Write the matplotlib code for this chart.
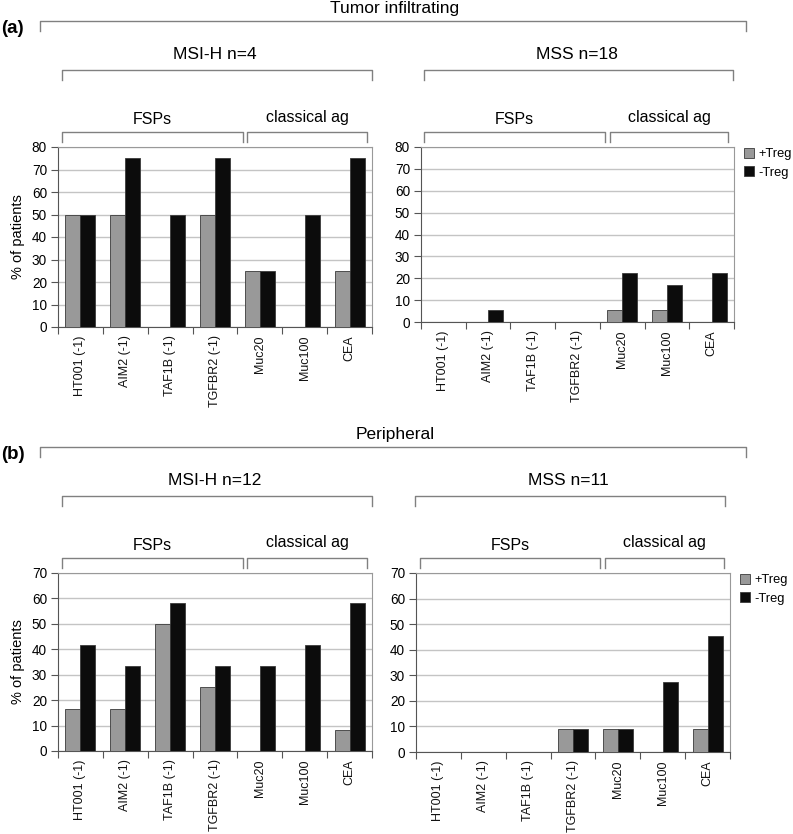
import matplotlib
matplotlib.use("Agg")
import matplotlib.pyplot as plt
import numpy as np

plt.rcParams['font.family'] = ['Liberation Sans', 'DejaVu Sans']

# antigènes (communs aux 4 graphiques)
antigenes = ['HT001 (-1)', 'AIM2 (-1)', 'TAF1B (-1)', 'TGFBR2 (-1)', 'Muc20', 'Muc100', 'CEA']

# (a) Tumor infiltrating
msih_a_plus = [50, 50, 0, 50, 25, 0, 25]
msih_a_moins = [50, 75, 50, 75, 25, 50, 75]
mss_a_plus = [0, 0, 0, 0, 5.6, 5.6, 0]
mss_a_moins = [0, 5.6, 0, 0, 22.2, 16.7, 22.2]

# (b) Peripheral
msih_b_plus = [16.7, 16.7, 50, 25, 0, 0, 8.3]
msih_b_moins = [41.7, 33.3, 58.3, 33.3, 33.3, 41.7, 58.3]
mss_b_plus = [0, 0, 0, 9.1, 9.1, 0, 9.1]
mss_b_moins = [0, 0, 0, 9.1, 9.1, 27.3, 45.5]

W, H = 793, 834
fig = plt.figure(figsize=(W / 100, H / 100), dpi=100)

GRIS = '#999999'
NOIR = '#0c0c0c'


def axes_px(x1, y1, x2, y2):
    return fig.add_axes([x1 / W, 1 - y2 / H, (x2 - x1) / W, (y2 - y1) / H])


def graphique(ax, plus, moins, ymax, ylabel=False):
    x = np.arange(len(antigenes))
    ax.bar(x - 0.167, plus, 0.334, color=GRIS, edgecolor='#3a3a3a', linewidth=0.6, zorder=3, label='+Treg')
    ax.bar(x + 0.167, moins, 0.334, color=NOIR, edgecolor='#3a3a3a', linewidth=0.6, zorder=3, label='-Treg')
    ax.set_xlim(-0.5, len(antigenes) - 0.5)
    ax.set_ylim(0, ymax)
    ax.set_yticks(np.arange(0, ymax + 1, 10))
    ax.yaxis.grid(True, color='#c4c4c4', linewidth=1, zorder=0)
    ax.set_xticks(np.arange(len(antigenes) + 1) - 0.5)
    ax.set_xticklabels([])
    ax.set_xticks(x, minor=True)
    ax.set_xticklabels(antigenes, minor=True, rotation=90, fontsize=9, color='#111')
    ax.tick_params(axis='x', which='major', direction='out', length=5, color='#555')
    ax.tick_params(axis='x', which='minor', length=0, pad=6)
    ax.tick_params(axis='y', direction='out', length=5, color='#555', labelsize=9.8, pad=3)
    for s in ['top', 'right']:
        ax.spines[s].set_color('#999999')
    for s in ['left', 'bottom']:
        ax.spines[s].set_color('#555555')
    if ylabel:
        ax.set_ylabel('% of patients', fontsize=10.5, labelpad=5)


ax1 = axes_px(58, 147, 372, 327)
graphique(ax1, msih_a_plus, msih_a_moins, 80, ylabel=True)
ax2 = axes_px(421, 147, 734, 322)
graphique(ax2, mss_a_plus, mss_a_moins, 80)
ax3 = axes_px(58, 573, 372, 751)
graphique(ax3, msih_b_plus, msih_b_moins, 70, ylabel=True)
ax4 = axes_px(416, 573, 730, 752)
graphique(ax4, mss_b_plus, mss_b_moins, 70)

for ax, y0 in [(ax2, 147), (ax4, 573)]:
    ax.legend(loc='upper left', bbox_to_anchor=((ax.get_position().x1 * W + 10) / W, 1 - (y0 + 1) / H),
              bbox_transform=fig.transFigure, frameon=False, fontsize=9.3,
              handlelength=0.8, handleheight=0.8, handletextpad=0.35, labelspacing=0.45, borderpad=0, borderaxespad=0)

# calque pour les accolades et les titres (en pixels)
ov = fig.add_axes([0, 0, 1, 1], zorder=10)
ov.set_xlim(0, W)
ov.set_ylim(H, 0)
ov.axis('off')
ov.patch.set_alpha(0)


def accolade(x1, x2, y, h=10):
    ov.plot([x1, x1, x2, x2], [y + h, y, y, y + h], color='#808080', linewidth=1)


def texte(x, y, s, fs, **kw):
    ov.text(x, y, s, fontsize=fs, ha='center', va='center', **kw)


for dy, titre, lettre, gauche, droite, n1, n2 in [
        (0, 'Tumor infiltrating', '(a)', (62, 372, 62, 243, 247, 367),
         (424, 733, 424, 605, 610, 728), 'MSI-H n=4', 'MSS n=18'),
        (426, 'Peripheral', '(b)', (62, 372, 62, 243, 247, 367),
         (415, 725, 420, 600, 605, 724), 'MSI-H n=12', 'MSS n=11')]:
    texte(395, 8 + dy, titre, 12.5)
    ov.text(1, 28 + dy, lettre, fontsize=13.5, fontweight='bold', ha='left', va='center')
    accolade(40, 746, 21 + dy)
    for (a1, a2, f1, f2, c1, c2), n in [(gauche, n1), (droite, n2)]:
        texte((a1 + a2) / 2 - 2, 54 + dy, n, 12.5)
        accolade(a1, a2, 70 + dy)
        texte((f1 + f2) / 2, 119 + dy, 'FSPs', 11.5)
        texte((c1 + c2) / 2, 117 + dy, 'classical ag', 11.5)
        accolade(f1, f2, 132 + dy)
        accolade(c1, c2, 132 + dy)

fig.savefig('out.png', dpi=100)
